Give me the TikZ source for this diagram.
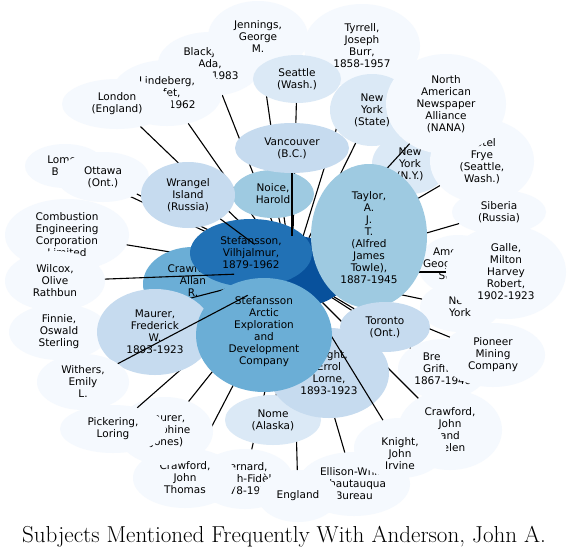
\documentclass[tikz,border=0pt]{standalone}
\usepackage{fontspec}
\newfontfamily\lblfont{DejaVu Sans}
\usetikzlibrary{shapes.geometric}
\definecolor{b0}{HTML}{F5F9FE}
\definecolor{b1}{HTML}{DBE9F6}
\definecolor{b2}{HTML}{C6DBEF}
\definecolor{b3}{HTML}{9ECAE1}
\definecolor{b4}{HTML}{6BAED6}
\definecolor{b6}{HTML}{2171B5}
\definecolor{b7}{HTML}{08519C}
\tikzset{
  bubble/.style={ellipse, draw=none, inner sep=0pt, outer sep=0pt},
  lbl/.style={font=\lblfont\fontsize{10.5}{12}\selectfont, align=center, inner sep=0pt, text=black},
  conn/.style={draw=black, line width=1.1pt},
  ttl/.style={font=\fontsize{23.1}{27}\selectfont, anchor=base, inner sep=0pt}
}
% #1 text shift (px down), #2 name, #3 x, #4 y, #5 rx, #6 ry, #7 colour, #8 text
\newcommand\bub[8][0]{%
  \node[bubble, fill=#7, minimum width={2*#5pt}, minimum height={2*#6pt}] (#2) at (#3,#4) {};
  \node[lbl] (#2t) at ([yshift=-#1pt]#2.center) {#8};}
\newcommand\edg[1]{\draw[conn] (#1) -- (hub);}
\begin{document}
\begin{tikzpicture}[x=1pt,y=-1pt]
\useasboundingbox (0,0) rectangle (570,557);
\fill[white] (0,0) rectangle (570,557);
\node[bubble, fill=b7, minimum width=116pt, minimum height=72pt] (hub) at (292,272) {};
\bub{blackjack}{210}{64}{52}{32}{b0}{Blackjack,\\Ada,\\1898-1983}\edg{blackjack}
\bub{jennings}{258}{37}{50}{36}{b0}{Jennings,\\George\\M.}\edg{jennings}
\bub{tyrrell}{362}{46}{58}{42}{b0}{Tyrrell,\\Joseph\\Burr,\\1858-1957}\edg{tyrrell}
\bub{lindeberg}{167}{93}{55}{33}{b0}{Lindeberg,\\Jafet,\\1874-1962}\edg{lindeberg}
\bub{london}{117}{104}{55}{25}{b0}{London\\(England)}\edg{london}
\bub{lomen}{65}{166}{40}{22}{b0}{Lomen\\Bros.}\edg{lomen}
\bub{ottawa}{103}{177}{46}{25}{b0}{Ottawa\\(Ont.)}\edg{ottawa}
\bub{combustion}{67}{235}{62}{36}{b0}{Combustion\\Engineering\\Corporation\\Limited}\edg{combustion}
\bub{seattle}{297}{79}{44}{24}{b1}{Seattle\\(Wash.)}\edg{seattle}
\bub{nystate}{372}{110}{42}{36}{b1}{New\\York\\(State)}\edg{nystate}
\bub{nyny}{410}{164}{38}{30}{b1}{New\\York\\(N.Y.)}\edg{nyny}
\bub{frye}{482}{161}{52}{42}{b0}{Hotel\\Frye\\(Seattle,\\Wash.)}\edg{frye}
\bub{nana}{446}{104}{60}{50}{b0}{North\\American\\Newspaper\\Alliance\\(NANA)}\edg{nana}
\bub{siberia}{499}{212}{47}{22}{b0}{Siberia\\(Russia)}\edg{siberia}
\bub{newyork}{460}{307}{40}{25}{b0}{New\\York}\edg{newyork}
\bub{amgeog}{458}{265}{40}{30}{b0}{American\\Geographical\\Society}\edg{amgeog}
\bub{galle}{506}{272}{60}{47}{b0}{Galle,\\Milton\\Harvey\\Robert,\\1902-1923}\edg{galle}
\bub{brewer}{443}{369}{45}{30}{b0}{Brewer,\\Griffith,\\1867-1948}\edg{brewer}
\bub{pioneer}{493}{355}{52}{32}{b0}{Pioneer\\Mining\\Company}\edg{pioneer}
\bub[-3]{crawallan}{193}{284}{50}{37}{b4}{Crawford,\\Allan\\R.}
\bub{noice}{273}{194}{41}{24}{b3}{Noice,\\Harold}\edg{noice}
\bub{stefv}{251}{253}{61}{34}{b6}{Stefansson,\\Vilhjalmur,\\1879-1962}
\bub{wrangel}{188}{195}{47}{33}{b2}{Wrangel\\Island\\(Russia)}\edg{wrangel}
\bub{vancouver}{292}{148}{57}{25}{b2}{Vancouver\\(B.C.)}\edg{vancouver}
\bub{wilcox}{55}{281}{50}{30}{b0}{Wilcox,\\Olive\\Rathbun}\edg{wilcox}
\bub{bernard}{245}{479}{48}{30}{b0}{Bernard,\\Joseph-Fidèle,\\1878-1971}\edg{bernard}
\bub{crawjt}{185}{478}{52}{30}{b0}{Crawford,\\John\\Thomas}\edg{crawjt}
\bub{maurerj}{165}{431}{48}{34}{b0}{Maurer,\\Josephine\\(Jones)}\edg{maurerj}
\bub{pickering}{113}{429}{53}{24}{b0}{Pickering,\\Loring}\edg{pickering}
\bub{finnie}{59}{332}{50}{28}{b0}{Finnie,\\Oswald\\Sterling}\edg{finnie}
\bub{maurerf}{155}{332}{58}{43}{b2}{Maurer,\\Frederick\\W.\\1893-1923}\edg{maurerf}
\bub{ellison}{354}{484}{56}{32}{b0}{Ellison-White\\Chautauqua\\Bureau}\edg{ellison}
\bub{england}{298}{496}{40}{26}{b0}{England}\edg{england}
\bub{nome}{273}{420}{48}{25}{b1}{Nome\\(Alaska)}\edg{nome}
\bub{crawjh}{450}{430}{52}{40}{b0}{Crawford,\\John\\and\\Helen}\edg{crawjh}
\bub{knighte}{329}{373}{60}{45}{b2}{Knight,\\Errol\\Lorne,\\1893-1923}\edg{knighte}
\bub[6]{knightj}{400}{448}{46}{30}{b0}{Knight,\\John\\Irvine}\edg{knightj}
\bub[2]{taylor}{369}{236}{58}{72}{b3}{Taylor,\\A.\\J.\\T.\\(Alfred\\James\\Towle),\\1887-1945}
\bub[-3]{saedc}{264}{335}{68}{57}{b4}{Stefansson\\Arctic\\Exploration\\and\\Development\\Company}
\bub{withers}{83}{382}{46}{28}{b0}{Withers,\\Emily\\L.}\edg{withers}
\bub{toronto}{385}{327}{45}{25}{b2}{Toronto\\(Ont.)}\edg{toronto}
\node[ttl] (title) at (284,542) {Subjects Mentioned Frequently With Anderson, John A.};
\end{tikzpicture}
\end{document}
